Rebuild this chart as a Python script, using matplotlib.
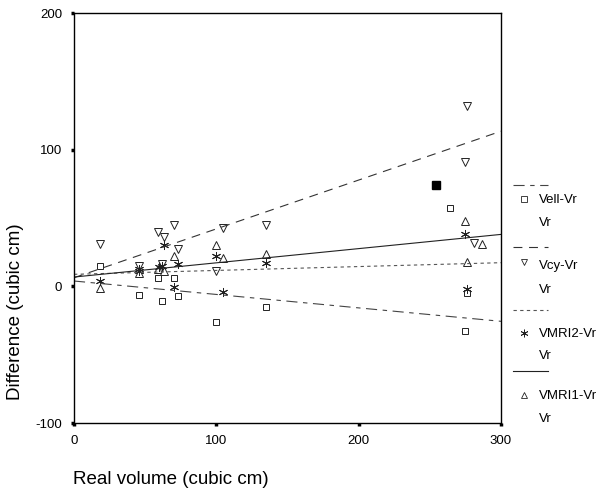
import matplotlib
matplotlib.use("Agg")
import matplotlib.pyplot as plt
from matplotlib.lines import Line2D
import matplotlib.transforms as mtransforms

plt.rcParams['font.family'] = ['Liberation Sans', 'DejaVu Sans']

# ---- data ----
vell_x = [18, 46, 59, 62, 70, 73, 100, 135, 264, 275, 276]
vell_y = [15, -6, 6, -11, 6, -7, -26, -15, 57, -33, -5]
highlight_x = [254]
highlight_y = [74]

vcy_x = [18, 46, 59, 62, 63, 70, 73, 100, 105, 135, 276, 275, 281]
vcy_y = [31, 15, 40, 16, 36, 45, 27, 11, 43, 45, 132, 91, 32]

vmri2_x = [18, 46, 46, 60, 62, 63, 70, 73, 100, 105, 135, 275, 276]
vmri2_y = [4, 11, 13, 14, 15, 30, -0.5, 16, 22, -4, 17, 38, -2]

vmri1_x = [18, 46, 59, 63, 70, 100, 105, 135, 275, 276, 287]
vmri1_y = [-1.5, 10, 13, 11, 22, 30, 21, 24, 48, 18, 31]

# fit lines: value at x=0 and x=300
fit_x = [0, 300]
fit_vell = [3.9, -25.6]
fit_vcy = [6.3, 113.5]
fit_vmri2 = [8.8, 17.3]
fit_vmri1 = [6.8, 38.0]

xticks = [0, 100, 200, 300]
yticks = [-100, 0, 100, 200]

W, H = 606, 492
fig = plt.figure(figsize=(W / 100, H / 100), dpi=100)
ax = fig.add_axes([74 / W, 1 - 423 / H, (501 - 74) / W, (423 - 13) / H])

ASTER = (6, 2, 0)

mk = dict(linestyle='none', markerfacecolor='white', markeredgecolor='#222222',
          markeredgewidth=0.7)
ax.plot(vell_x, vell_y, marker='s', markersize=4.4, **mk)
ax.plot(vcy_x, vcy_y, marker='v', markersize=5.4, **mk)
ax.plot(vmri1_x, vmri1_y, marker='^', markersize=5.4, **mk)
ax.plot(vmri2_x, vmri2_y, marker=ASTER, markersize=6.5, linestyle='none',
        color='#222222', markeredgewidth=0.7)
ax.plot(highlight_x, highlight_y, marker='s', markersize=5.5, linestyle='none',
        color='black')

styles = {
    'vell': dict(color='#444444', linewidth=0.8, dashes=(10, 5, 4, 5)),
    'vcy': dict(color='#333333', linewidth=0.8, dashes=(8, 6)),
    'vmri2': dict(color='#555555', linewidth=0.8, dashes=(3, 3)),
    'vmri1': dict(color='#222222', linewidth=0.8, linestyle='-'),
}
ax.plot(fit_x, fit_vell, **styles['vell'])
ax.plot(fit_x, fit_vcy, **styles['vcy'])
ax.plot(fit_x, fit_vmri2, **styles['vmri2'])
ax.plot(fit_x, fit_vmri1, **styles['vmri1'])

ax.set_xlim(0, 300)
ax.set_ylim(-100, 200)
ax.set_xticks(xticks)
ax.set_yticks(yticks)
ax.set_xticklabels([str(t) for t in xticks])
ax.set_yticklabels([str(t) for t in yticks])
ax.tick_params(direction='out', length=2.5, width=2.5, labelsize=9.5,
               colors='black', pad=6)
for s in ax.spines.values():
    s.set_linewidth(1.0)
    s.set_color('black')

# axis labels placed as in reference
fig.text(73 / W, 1 - 480 / H, 'Real volume (cubic cm)', ha='left', va='center',
         fontsize=13.5)
fig.text(16 / W, 1 - 312 / H, 'Difference (cubic cm)', ha='center', va='center',
         rotation=90, fontsize=13.5)

# ---- legend (drawn manually to mimic SPSS layout) ----
pix = mtransforms.Affine2D().scale(1 / W, -1 / H).translate(0, 1) + fig.transFigure
legend_entries = [
    ('Vell-Vr', 'vell', 's', 4.2, 185, 199, 200, 223),
    ('Vcy-Vr', 'vcy', 'v', 4.6, 247, 262, 266, 290),
    ('VMRI2-Vr', 'vmri2', ASTER, 5.5, 310, 333, 334, 356),
    ('VMRI1-Vr', 'vmri1', '^', 4.6, 371, 395, 396, 419),
]
for label, key, m, ms, ly, my, ty, vy in legend_entries:
    fig.add_artist(Line2D([513, 548], [ly, ly], transform=pix, **styles[key]))
    if key == 'vmri2':
        fig.add_artist(Line2D([524], [my], transform=pix, marker=m, markersize=ms,
                              linestyle='none', color='#222222', markeredgewidth=0.6))
    else:
        fig.add_artist(Line2D([524], [my], transform=pix, marker=m, markersize=ms,
                              linestyle='none', markerfacecolor='white',
                              markeredgecolor='#222222', markeredgewidth=0.6))
    fig.text(539 / W, 1 - ty / H, label, ha='left', va='center', fontsize=9.5)
    fig.text(539 / W, 1 - vy / H, 'Vr', ha='left', va='center', fontsize=9.5)

fig.savefig('out.png', dpi=100)
